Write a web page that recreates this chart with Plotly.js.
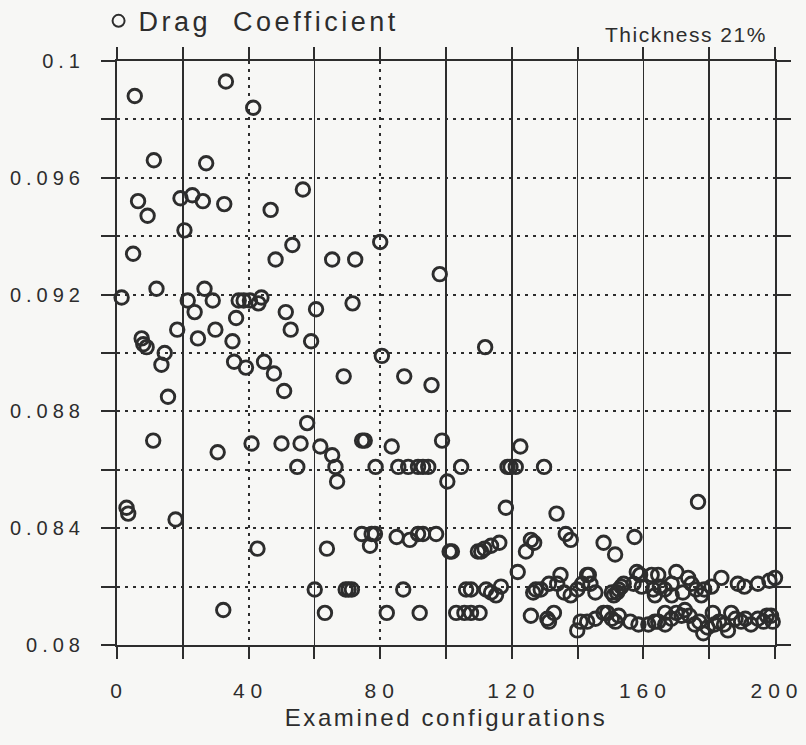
<!DOCTYPE html>
<html>
<head>
<meta charset="utf-8">
<script src="https://cdn.plot.ly/plotly-3.0.1.min.js"></script>
<style>
html, body { margin: 0; padding: 0; background: #f7f7f5; }
#chart { width: 806px; height: 745px; }
.xtick text { letter-spacing: 6px; }
.ytick text { letter-spacing: 5px; }
.legendtext { letter-spacing: 3.5px; }
.g-xtitle text { letter-spacing: 2.6px; }
.annotation-text { letter-spacing: 1.5px; }
</style>
</head>
<body>
<div id="chart"></div>
<script>
// Examined configuration index (x) for each plotted point
const config = [
  5.4, 33.1, 41.4, 11.2, 27.1, 56.5, 6.4, 9.3, 19.3, 22.9, 26.1, 32.6, 46.7, 20.5, 4.9, 53.3, 48.2, 65.4,
  12.0, 1.4, 21.5, 26.6, 29.1, 23.6, 37.0, 38.5, 40.4, 43.9, 43.0, 36.2, 51.3, 52.8, 60.5, 59.0, 18.3, 24.6,
  29.9, 35.1, 7.5, 8.0, 9.0, 14.5, 13.5, 15.5, 35.6, 39.2, 44.7, 47.7, 50.8, 57.8, 11.0, 30.6, 40.9, 50.0,
  55.8, 61.8, 65.4, 66.4, 66.9, 54.8, 2.9, 3.4, 17.8, 42.7, 63.8, 60.1, 63.2, 32.3,
  80.0, 72.4, 98.1, 71.6, 80.5, 111.9, 68.9, 87.3, 95.6, 74.5, 75.3, 83.5, 98.8, 122.6, 78.6, 85.5, 88.5,
  91.5, 93.0, 94.6, 104.6, 100.4, 118.7, 119.6, 121.2, 129.8, 118.2, 133.6, 74.4, 77.4, 76.9, 78.4, 85.0,
  89.0, 91.5, 93.0, 97.0, 101.1, 101.8, 109.7, 110.7, 111.7, 113.7, 116.2, 121.8, 124.3, 126.8, 125.8,
  70.4, 71.4, 69.5, 87.0, 106.1, 107.6, 112.2, 113.7, 115.2, 116.7, 82.0, 92.0, 103.1, 105.6, 107.6, 110.2,
  136.4, 137.9, 147.9, 151.4, 157.3, 176.6, 143.4,
  126.5, 127.3, 128.8, 131.3, 133.8, 134.8, 135.9, 137.9, 139.9, 141.4, 142.9, 143.9, 145.4, 150.4, 151.0,
  152.0, 152.5, 153.3, 154.0, 157.0, 158.0, 159.0, 159.5, 162.5, 163.0, 163.5, 164.5, 165.0, 166.5, 168.6,
  168.6, 170.0, 172.0, 173.6, 174.6, 176.0, 177.6, 178.5, 180.7, 183.7, 188.7, 190.7, 194.8, 198.3, 200.0,
  125.8, 130.8, 131.3, 132.8, 139.9, 140.9, 142.9, 145.4, 147.9, 149.0, 150.4, 151.5, 152.5, 156.0, 158.5,
  161.5, 163.5, 164.5, 166.6, 166.6, 168.5, 170.0, 171.6, 172.6, 174.0, 175.6, 177.0, 178.2, 179.5, 181.1,
  181.6, 183.0, 184.5, 185.7, 186.7, 188.0, 189.7, 191.0, 192.7, 194.8, 196.5, 197.5, 198.8, 199.3
];
// Drag coefficient (y) for each plotted point
const dragCoef = [
  0.0988, 0.0993, 0.0984, 0.0966, 0.0965, 0.0956, 0.0952, 0.0947, 0.0953, 0.0954, 0.0952, 0.0951, 0.0949, 0.0942, 0.0934, 0.0937, 0.0932, 0.0932,
  0.0922, 0.0919, 0.0918, 0.0922, 0.0918, 0.0914, 0.0918, 0.0918, 0.0918, 0.0919, 0.0917, 0.0912, 0.0914, 0.0908, 0.0915, 0.0904, 0.0908, 0.0905,
  0.0908, 0.0904, 0.0905, 0.0903, 0.0902, 0.0900, 0.0896, 0.0885, 0.0897, 0.0895, 0.0897, 0.0893, 0.0887, 0.0876, 0.0870, 0.0866, 0.0869, 0.0869,
  0.0869, 0.0868, 0.0865, 0.0861, 0.0856, 0.0861, 0.0847, 0.0845, 0.0843, 0.0833, 0.0833, 0.0819, 0.0811, 0.0812,
  0.0938, 0.0932, 0.0927, 0.0917, 0.0899, 0.0902, 0.0892, 0.0892, 0.0889, 0.0870, 0.0870, 0.0868, 0.0870, 0.0868, 0.0861, 0.0861, 0.0861,
  0.0861, 0.0861, 0.0861, 0.0861, 0.0856, 0.0861, 0.0861, 0.0861, 0.0861, 0.0847, 0.0845, 0.0838, 0.0838, 0.0834, 0.0838, 0.0837,
  0.0836, 0.0838, 0.0838, 0.0838, 0.0832, 0.0832, 0.0832, 0.0832, 0.0833, 0.0834, 0.0835, 0.0825, 0.0832, 0.0835, 0.0836,
  0.0819, 0.0819, 0.0819, 0.0819, 0.0819, 0.0819, 0.0819, 0.0818, 0.0817, 0.0820, 0.0811, 0.0811, 0.0811, 0.0811, 0.0811, 0.0811,
  0.0838, 0.0836, 0.0835, 0.0831, 0.0837, 0.0849, 0.0824,
  0.0818, 0.0819, 0.0819, 0.0821, 0.0821, 0.0824, 0.0818, 0.0817, 0.0819, 0.0821, 0.0824, 0.0821, 0.0818, 0.0818, 0.0817,
  0.0818, 0.0819, 0.0820, 0.0821, 0.0821, 0.0825, 0.0824, 0.0820, 0.0824, 0.0819, 0.0817, 0.0824, 0.0820, 0.0819, 0.0821,
  0.0817, 0.0825, 0.0818, 0.0823, 0.0821, 0.0819, 0.0817, 0.0819, 0.0820, 0.0823, 0.0821, 0.0820, 0.0821, 0.0822, 0.0823,
  0.0810, 0.0809, 0.0808, 0.0811, 0.0805, 0.0808, 0.0808, 0.0809, 0.0811, 0.0811, 0.0809, 0.0808, 0.0810, 0.0808, 0.0807,
  0.0807, 0.0808, 0.0808, 0.0811, 0.0807, 0.0809, 0.0811, 0.0810, 0.0812, 0.0810, 0.0807, 0.0808, 0.0804, 0.0806, 0.0811,
  0.0807, 0.0808, 0.0807, 0.0805, 0.0811, 0.0809, 0.0808, 0.0809, 0.0807, 0.0809, 0.0808, 0.0810, 0.0810, 0.0808
];

// Axis ticks and labels
const xTickVals = [0, 20, 40, 60, 80, 100, 120, 140, 160, 180, 200];
const xTickText = ["0", "", "40", "", "80", "", "120", "", "160", "", "200"];
const yTickVals = [0.08, 0.082, 0.084, 0.086, 0.088, 0.09, 0.092, 0.094, 0.096, 0.098, 0.1];
const yTickText = ["0.08", "", "0.084", "", "0.088", "", "0.092", "", "0.096", "", "0.1"];
const dottedGridX = [40, 80];
const solidGridX = [20, 60, 100, 120, 140, 160, 180];

const seriesName = "Drag  Coefficient";
const xTitle = "Examined configurations";
const noteText = "Thickness 21%";

const ink = "#2d2d2d";
const font = "Liberation Sans, Arial, sans-serif";

const traces = [
  {
    type: "scatter", mode: "markers", name: seriesName,
    x: config, y: dragCoef, cliponaxis: false,
    marker: { symbol: "circle-open", size: 13.5, color: ink, line: { width: 2.9, color: ink } },
    hoverinfo: "x+y"
  },
  { type: "scatter", mode: "markers", x: [], y: [], xaxis: "x2", yaxis: "y", showlegend: false, hoverinfo: "skip" },
  { type: "scatter", mode: "markers", x: [], y: [], xaxis: "x3", yaxis: "y", showlegend: false, hoverinfo: "skip" }
];

const layout = {
  width: 806, height: 745,
  margin: { l: 117, r: 31, t: 61, b: 100, autoexpand: false },
  paper_bgcolor: "#f7f7f5", plot_bgcolor: "#f7f7f5",
  font: { family: font, color: ink },
  showlegend: true,
  legend: {
    x: -0.028, y: 1.068, xanchor: "left", yanchor: "middle",
    bgcolor: "rgba(0,0,0,0)", itemsizing: "constant",
    font: { size: 27, family: font, color: ink }
  },
  xaxis: {
    range: [0, 200], tickmode: "array", tickvals: xTickVals, ticktext: xTickText,
    ticks: "outside", ticklen: 12, tickwidth: 2, tickcolor: ink,
    showline: true, linewidth: 2, linecolor: ink, mirror: "ticks",
    showgrid: false, zeroline: false,
    tickfont: { size: 21, family: font, color: ink },
    ticklabelstandoff: 14, ticklabelshift: 2, ticklabeloverflow: "allow",
    title: { text: xTitle, font: { size: 24, family: font, color: ink }, standoff: 8 }
  },
  xaxis2: {
    range: [0, 200], overlaying: "x", anchor: "y", tickmode: "array", tickvals: dottedGridX,
    showticklabels: false, ticks: "", showline: false, zeroline: false,
    showgrid: true, gridcolor: ink, gridwidth: 2, griddash: "3px,5px"
  },
  xaxis3: {
    range: [0, 200], overlaying: "x", anchor: "y", tickmode: "array", tickvals: solidGridX,
    showticklabels: false, ticks: "", showline: false, zeroline: false,
    showgrid: true, gridcolor: ink, gridwidth: 1.5
  },
  yaxis: {
    range: [0.08, 0.1], tickmode: "array", tickvals: yTickVals, ticktext: yTickText,
    ticks: "outside", ticklen: 14, tickwidth: 2, tickcolor: ink,
    showline: true, linewidth: 2, linecolor: ink, mirror: "ticks",
    showgrid: true, gridcolor: ink, gridwidth: 2, griddash: "3px,5px",
    zeroline: false, ticklabeloverflow: "allow",
    tickfont: { size: 20, family: font, color: ink },
    ticklabelstandoff: 12
  },
  annotations: [
    {
      text: noteText, xref: "paper", yref: "paper", x: 1, y: 1.045,
      xanchor: "right", yanchor: "middle", xshift: -6, showarrow: false,
      font: { size: 21, family: font, color: ink }
    }
  ]
};

Plotly.newPlot("chart", traces, layout, { displayModeBar: false, staticPlot: true });
</script>
</body>
</html>
